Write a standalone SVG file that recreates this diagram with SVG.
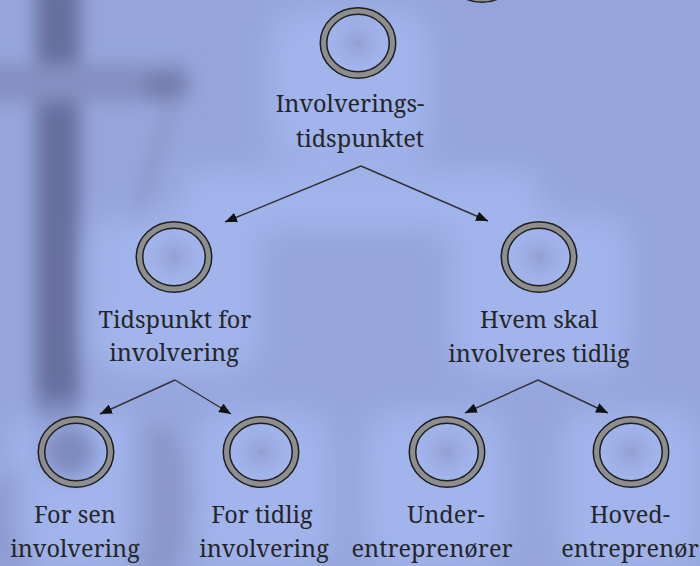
<svg xmlns="http://www.w3.org/2000/svg" width="700" height="566" viewBox="0 0 700 566">
  <defs>
    <filter id="soft" x="-50%" y="-50%" width="200%" height="200%">
      <feGaussianBlur stdDeviation="9"/>
    </filter>
    <filter id="softer" x="-50%" y="-50%" width="200%" height="200%">
      <feGaussianBlur stdDeviation="16"/>
    </filter>
    <radialGradient id="core" cx="50%" cy="50%" r="50%">
      <stop offset="0" stop-color="#8a90bf" stop-opacity="0.6"/>
      <stop offset="1" stop-color="#9aaae2" stop-opacity="0"/>
    </radialGradient>
    <marker id="arrow" viewBox="0 0 12 10" refX="12" refY="5" markerWidth="12" markerHeight="10" markerUnits="userSpaceOnUse" orient="auto">
      <path d="M0,0 L12,5 L0,10 Z" fill="#111"/>
    </marker>
    <style>
      .ring-edge { fill: none; stroke: #1e1e1e; stroke-width: 8; }
      .ring-core { fill: none; stroke: #8e8e8e; stroke-width: 5; }
      .lbl { font-family: 'Noto Serif', 'DejaVu Serif Condensed', 'DejaVu Serif', serif; font-size: 23.5px; fill: #262626; text-anchor: middle; }
      .edge { fill: none; stroke: #333; stroke-width: 1.4; }
      .glow { fill: #a3b6ee; }
    </style>
  </defs>

  <!-- backdrop: blue field with a blurred dark mast on the left -->
  <rect width="700" height="566" fill="#95a5db"/>
  <g filter="url(#soft)">
    <rect x="36" y="-20" width="44" height="500" fill="#66709f"/>
    <rect x="-20" y="64" width="210" height="38" fill="#8490c2"/>
    <ellipse cx="165" cy="86" rx="22" ry="14" fill="#727cab"/>
    <path d="M175,95 L110,300" stroke="#8a96c8" stroke-width="12" fill="none"/>
    <ellipse cx="155" cy="500" rx="40" ry="75" fill="#8a96c9"/>
    <ellipse cx="20" cy="520" rx="30" ry="50" fill="#8490c4"/>
  </g>

  <!-- light halos behind nodes and labels -->
  <g filter="url(#softer)" opacity="0.9">
    <rect class="glow" x="270" y="10" width="160" height="150" rx="30"/>
    <rect class="glow" x="90" y="215" width="170" height="160" rx="30"/>
    <rect class="glow" x="450" y="215" width="180" height="160" rx="30"/>
    <rect class="glow" x="10" y="410" width="130" height="160" rx="30"/>
    <rect class="glow" x="195" y="410" width="135" height="160" rx="30"/>
    <rect class="glow" x="365" y="410" width="140" height="160" rx="30"/>
    <rect class="glow" x="560" y="410" width="140" height="160" rx="30"/>
    <rect class="glow" x="180" y="170" width="360" height="60" rx="20"/>
  </g>

  <!-- connectors -->
  <g id="connectors">
    <path class="edge" d="M361,166 L225,222" marker-end="url(#arrow)"/>
    <path class="edge" d="M361,166 L488,221" marker-end="url(#arrow)"/>
    <path class="edge" d="M175,380 L100,414" marker-end="url(#arrow)"/>
    <path class="edge" d="M175,380 L231,414" marker-end="url(#arrow)"/>
    <path class="edge" d="M538,380 L465,413" marker-end="url(#arrow)"/>
    <path class="edge" d="M538,380 L608,413" marker-end="url(#arrow)"/>
  </g>

  <!-- ring just above the top edge -->
  <g id="node-above">
    <ellipse cx="482" cy="-33" rx="34.5" ry="32" class="ring-edge"/>
    <ellipse cx="482" cy="-33" rx="34.5" ry="32" class="ring-core"/>
  </g>

  <g id="node-root">
    <ellipse cx="358" cy="43" rx="30" ry="28" fill="url(#core)"/>
    <ellipse cx="358" cy="43" rx="34.5" ry="32" class="ring-edge"/>
    <ellipse cx="358" cy="43" rx="34.5" ry="32" class="ring-core"/>
    <text class="lbl" x="350" y="112">Involverings-</text>
    <text class="lbl" x="360" y="147">tidspunktet</text>
  </g>

  <g id="node-tidspunkt">
    <ellipse cx="174" cy="257" rx="30" ry="28" fill="url(#core)"/>
    <ellipse cx="174" cy="257" rx="34.5" ry="32" class="ring-edge"/>
    <ellipse cx="174" cy="257" rx="34.5" ry="32" class="ring-core"/>
    <text class="lbl" x="175" y="328">Tidspunkt for</text>
    <text class="lbl" x="174" y="361">involvering</text>
  </g>

  <g id="node-hvem">
    <ellipse cx="539" cy="257" rx="30" ry="28" fill="url(#core)"/>
    <ellipse cx="539" cy="257" rx="34.5" ry="32" class="ring-edge"/>
    <ellipse cx="539" cy="257" rx="34.5" ry="32" class="ring-core"/>
    <text class="lbl" x="539" y="328">Hvem skal</text>
    <text class="lbl" x="539" y="362">involveres tidlig</text>
  </g>

  <g id="node-for-sen">
    <ellipse cx="70" cy="452" rx="26" ry="24" fill="#5f6896" opacity="0.5" filter="url(#soft)"/>
    <ellipse cx="76" cy="452" rx="34.5" ry="32" class="ring-edge"/>
    <ellipse cx="76" cy="452" rx="34.5" ry="32" class="ring-core"/>
    <text class="lbl" x="75" y="523">For sen</text>
    <text class="lbl" x="75" y="557">involvering</text>
  </g>

  <g id="node-for-tidlig">
    <ellipse cx="261" cy="452" rx="30" ry="28" fill="url(#core)"/>
    <ellipse cx="261" cy="452" rx="34.5" ry="32" class="ring-edge"/>
    <ellipse cx="261" cy="452" rx="34.5" ry="32" class="ring-core"/>
    <text class="lbl" x="262" y="523">For tidlig</text>
    <text class="lbl" x="264" y="557">involvering</text>
  </g>

  <g id="node-under">
    <ellipse cx="447" cy="452" rx="30" ry="28" fill="url(#core)"/>
    <ellipse cx="447" cy="452" rx="34.5" ry="32" class="ring-edge"/>
    <ellipse cx="447" cy="452" rx="34.5" ry="32" class="ring-core"/>
    <text class="lbl" x="446" y="523">Under-</text>
    <text class="lbl" x="432" y="557">entreprenører</text>
  </g>

  <g id="node-hoved">
    <ellipse cx="631" cy="452" rx="30" ry="28" fill="url(#core)"/>
    <ellipse cx="631" cy="452" rx="34.5" ry="32" class="ring-edge"/>
    <ellipse cx="631" cy="452" rx="34.5" ry="32" class="ring-core"/>
    <text class="lbl" x="630" y="523">Hoved-</text>
    <text class="lbl" x="630" y="557">entreprenør</text>
  </g>
</svg>
